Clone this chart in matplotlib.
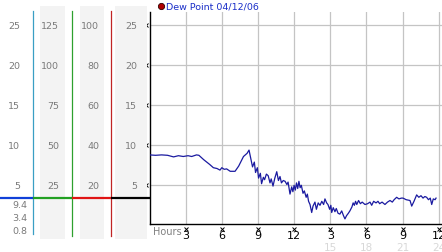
import matplotlib
matplotlib.use("Agg")
import matplotlib.pyplot as plt
import matplotlib.transforms as mtrans

# dew point trace, hours since midnight vs degrees
hours = [0.0, 0.5, 1.0, 1.5, 2.0, 2.4, 2.8, 3.2, 3.5, 3.9, 4.1, 4.5, 5.0, 5.3, 5.6,
         5.85, 6.0, 6.2, 6.4, 6.7, 7.1, 7.4, 7.8, 8.1, 8.26, 8.4, 8.55, 8.7, 8.8, 8.95,
         9.05, 9.2, 9.3, 9.45, 9.55, 9.7, 9.85, 10.0, 10.1, 10.25, 10.4, 10.56, 10.7,
         10.83, 10.95, 11.1, 11.25, 11.4, 11.5, 11.66, 11.8, 11.9, 12.0, 12.1, 12.2,
         12.3, 12.4, 12.5, 12.6, 12.74, 12.85, 13.0, 13.1, 13.2, 13.32, 13.46, 13.57,
         13.73, 13.85, 14.0, 14.15, 14.3, 14.45, 14.56, 14.7, 14.81, 14.95, 15.05,
         15.12, 15.25, 15.39, 15.5, 15.65, 15.8, 15.95, 16.1, 16.22, 16.35, 16.5,
         16.63, 16.8, 16.9, 17.0, 17.1, 17.2, 17.35, 17.5, 17.65, 17.88, 18.1, 18.3,
         18.44, 18.6, 18.8, 18.96, 19.1, 19.3, 19.54, 19.75, 19.96, 20.15, 20.3,
         20.51, 20.7, 20.9, 21.04, 21.3, 21.62, 21.76, 21.95, 22.17, 22.35, 22.53,
         22.7, 22.85, 23.0, 23.15, 23.3, 23.42, 23.55, 23.7, 23.78]
dew = [8.8, 8.75, 8.8, 8.75, 8.55, 8.7, 8.6, 8.7, 8.6, 8.8, 8.75, 8.2, 7.6, 7.2, 7.1,
       6.9, 7.2, 7.0, 7.05, 6.75, 6.75, 7.4, 8.6, 9.0, 9.4, 8.4, 7.3, 7.9, 6.6, 7.2,
       5.9, 6.5, 5.2, 6.0, 5.7, 6.4, 6.2, 5.3, 5.8, 4.9, 5.9, 6.7, 5.6,
       6.1, 5.3, 5.6, 5.5, 5.1, 5.4, 3.9, 4.8, 4.2, 5.0, 4.4, 5.3,
       4.6, 5.5, 4.7, 5.0, 4.0, 4.3, 3.5, 3.9, 3.0, 2.6, 1.6, 2.4,
       2.9, 2.0, 2.8, 2.5, 3.0, 2.6, 3.3, 2.8, 2.6, 2.0, 2.5,
       1.6, 2.2, 1.7, 2.1, 1.5, 1.4, 1.8, 1.2, 0.8, 1.2, 1.5,
       1.8, 2.3, 2.8, 2.5, 3.0, 2.6, 3.1, 2.7, 2.9, 2.6, 2.7, 2.9,
       2.5, 3.0, 2.8, 3.0, 2.7, 2.9, 2.6, 2.9, 3.1, 2.9, 3.2,
       3.5, 3.3, 3.4, 3.4, 3.2, 3.1, 2.4, 3.0, 3.8, 3.5, 3.7,
       3.4, 3.6, 3.5, 3.2, 3.4, 2.6, 3.3, 3.2, 3.4]

legend_label = "Dew Point 04/12/06"
y_ticks = [5, 10, 15, 20, 25]
x_ticks = [3, 6, 9, 12, 15, 18, 21, 24]
x_labels = ["3", "6", "9", "12", "3", "6", "9", "12"]
x_labels_24h = {15: "15", 18: "18", 21: "21", 24: "24"}

# side scales (same heights as the main y axis)
scale_cols = [
    ["25", "20", "15", "10", "5"],
    ["125", "100", "75", "50", "25"],
    ["100", "80", "60", "40", "20"],
    ["25", "20", "15", "10", "5"],
]
stat_labels = ["9.4", "3.4", "0.8"]   # max, current, min
current = 3.4

W, H = 442, 253
fig = plt.figure(figsize=(W / 100, H / 100), dpi=100)
fig.patch.set_facecolor("white")

# pixel -> value mapping: 8 px per degree, zero at y=226.3
y0_px, ppu = 226.3, 8.0
def val(ypx):
    return (y0_px - ypx) / ppu

ax_left = 149.5
top_px, bot_px = 13, 224.5
ax_h = bot_px - top_px
ax = fig.add_axes([ax_left / W, (H - bot_px) / H, (W - ax_left) / W, ax_h / H])
ax.set_ylim(val(bot_px), val(top_px))
ax.set_xlim(0, (W - ax_left) / 12.05)

side = fig.add_axes([0, 0, ax_left / W, 1])
side.set_xlim(0, ax_left)
side.set_ylim(val(H), val(0))
side.axis("off")

# ---- side panel
for x0, x1 in [(40, 65), (80, 104), (115, 147)]:
    side.fill_between([x0, x1], val(240), val(7), color="#f3f3f3", lw=0)
for xv, c, yb in [(33, "#3a9fc4", 235), (72, "#2ea02e", 237), (111, "#c02424", 237)]:
    side.plot([xv, xv], [val(12), val(yb)], color=c, lw=0.9)
seg_colors = ["#1040d8", "#22a022", "#e01414", "black"]
seg_x = [0, 33, 72, 111, ax_left]
for i, c in enumerate(seg_colors):
    side.plot([seg_x[i], seg_x[i + 1]], [current, current], color=c, lw=1.6,
              solid_capstyle="butt")
label_right = [20, 59, 99, 137]
for col, xr in zip(scale_cols, label_right):
    for lab, yv in zip(col, reversed(y_ticks)):
        side.text(xr, yv, lab, ha="right", va="center", fontsize=6.8, color="#7a7a7a")
for lab, ypx in zip(stat_labels, [205, 219, 232]):
    side.text(27, val(ypx), lab, ha="right", va="center", fontsize=6.8, color="#7a7a7a")

# ---- main plot
ax.plot(hours, dew, color="#1a1aa0", lw=0.9, zorder=3)
for t in x_ticks:
    ax.axvline(t, color="#c4c4c4", lw=0.9, zorder=1)
for t in y_ticks:
    ax.axhline(t, color="#c4c4c4", lw=0.9, zorder=1)

for s in ["top", "right"]:
    ax.spines[s].set_visible(False)
ax.spines["left"].set_linewidth(1.0)
ax.spines["bottom"].set_linewidth(1.0)
ax.set_yticks([])
ax.set_xticks(x_ticks)
ax.set_xticklabels(x_labels, fontsize=8, color="black")
ax.tick_params(axis="x", length=0, pad=5)

# little "x" tick marks
trx = mtrans.blended_transform_factory(ax.transData, ax.transAxes)
ax.plot(x_ticks, [-5.0 / ax_h] * len(x_ticks), "x", ms=2.5, mew=0.7, color="black",
        transform=trx, clip_on=False)
try_ = mtrans.blended_transform_factory(ax.transAxes, ax.transData)
ax.plot([-0.012] * len(y_ticks), y_ticks, "x", ms=2.5, mew=0.7, color="black",
        transform=try_, clip_on=False)

for t, lab in x_labels_24h.items():
    ax.text(t, -24.0 / ax_h, lab, transform=trx, ha="center", va="center",
            fontsize=7.5, color="#d8d8d8", clip_on=False)
ax.text(0.012, -8.0 / ax_h, "Hours", transform=ax.transAxes, ha="left", va="center",
        fontsize=7, color="#808080")

# legend
ax.plot([0.04], [1.03], "o", ms=4.5, mfc="#b00000", mec="#300000", mew=0.6,
        transform=ax.transAxes, clip_on=False)
ax.text(0.057, 1.03, legend_label, transform=ax.transAxes, ha="left", va="center",
        fontsize=6.8, color="#1a2ec8")

fig.savefig("out.png", dpi=100)
